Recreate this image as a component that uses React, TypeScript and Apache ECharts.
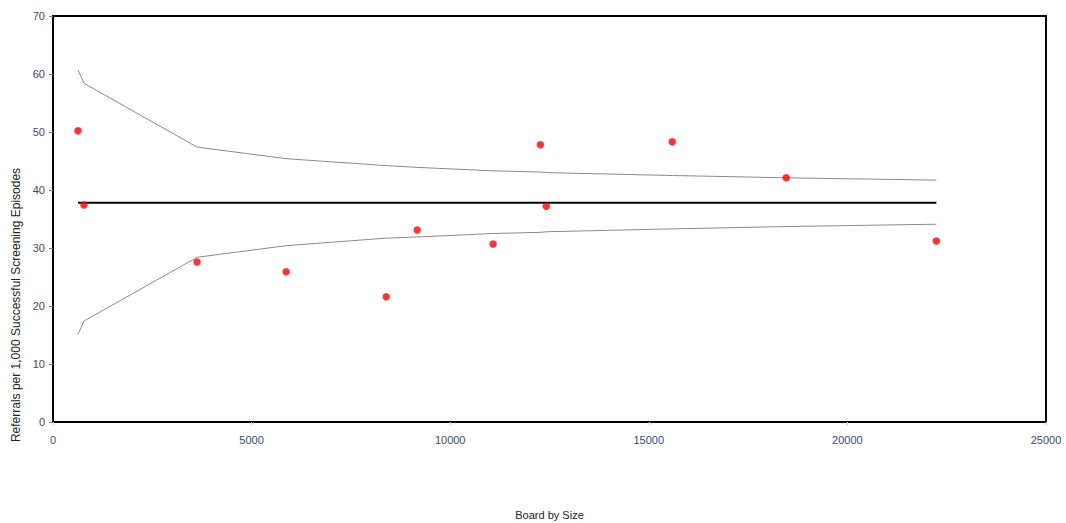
import React, { useEffect, useRef } from "react";
import * as echarts from "echarts";

const boardSize = [630, 780, 3627, 5870, 8390, 9170, 11080, 12270, 12420, 15590, 18460, 22240];
const referralRate = [50.2, 37.4, 27.6, 25.9, 21.6, 33.1, 30.7, 47.8, 37.2, 48.3, 42.1, 31.2];
const upperLimit = [60.7, 58.4, 47.4, 45.4, 44.2, 43.9, 43.3, 43.1, 43.0, 42.5, 42.1, 41.7];
const lowerLimit = [15.1, 17.4, 28.4, 30.4, 31.7, 31.9, 32.5, 32.7, 32.8, 33.3, 33.7, 34.1];
const meanRate = 37.8;
const xTitle = "Board by Size";
const yTitle = "Referrals per 1,000 Successful Screening Episodes";

export default function App() {
  const ref = useRef<HTMLDivElement>(null);
  useEffect(() => {
    if (!ref.current) return;
    const chart = echarts.init(ref.current, null, { renderer: "svg" });
    const labelColor = "#3d4866";
    chart.setOption({
      animation: false,
      backgroundColor: "#ffffff",
      grid: {
        left: 53,
        right: 20,
        top: 16,
        bottom: 101,
        outerBoundsMode: "none",
        containLabel: false,
        show: true,
        borderColor: "#000",
        borderWidth: 2,
        backgroundColor: "#fff",
      },
      graphic: [
        {
          type: "text",
          x: 16,
          y: 305,
          rotation: Math.PI / 2,
          style: {
            text: yTitle,
            fontFamily: "Liberation Sans, Arial",
            fontSize: 12,
            fill: "#222",
            align: "center",
            verticalAlign: "middle",
          },
        },
      ],
      xAxis: {
        type: "value",
        min: 0,
        max: 25000,
        interval: 5000,
        name: xTitle,
        nameLocation: "middle",
        nameGap: 87,
        nameTextStyle: { fontFamily: "Liberation Sans, Arial", fontSize: 11, color: "#222" },
        axisLine: { show: true, lineStyle: { color: "#000", width: 2 } },
        axisTick: { show: true, length: 3, lineStyle: { color: "#ccc" } },
        splitLine: { show: false },
        axisLabel: {
          fontFamily: "Liberation Sans, Arial",
          fontSize: 11,
          color: labelColor,
          margin: 12,
          formatter: (v: number) => String(v),
        },
      },
      yAxis: {
        type: "value",
        min: 0,
        max: 70,
        interval: 10,
        axisLine: { show: true, lineStyle: { color: "#000", width: 2 } },
        axisTick: { show: true, length: 4, lineStyle: { color: "#777" } },
        splitLine: { show: false },
        axisLabel: { fontFamily: "Liberation Sans, Arial", fontSize: 11, color: labelColor, margin: 8 },
      },
      series: [
        {
          type: "line",
          data: boardSize.map((x, i) => [x, upperLimit[i]]),
          symbol: "none",
          lineStyle: { color: "#8a8a8a", width: 1 },
          z: 2,
        },
        {
          type: "line",
          data: boardSize.map((x, i) => [x, lowerLimit[i]]),
          symbol: "none",
          lineStyle: { color: "#8a8a8a", width: 1 },
          z: 2,
        },
        {
          type: "line",
          data: [
            [boardSize[0], meanRate],
            [boardSize[boardSize.length - 1], meanRate],
          ],
          symbol: "none",
          lineStyle: { color: "#000", width: 2 },
          z: 3,
        },
        {
          type: "scatter",
          data: boardSize.map((x, i) => [x, referralRate[i]]),
          symbol: "circle",
          symbolSize: 7.5,
          itemStyle: { color: "#ff0000" },
          z: 4,
        },
      ],
    });
    return () => chart.dispose();
  }, []);
  return <div ref={ref} style={{ width: 1066, height: 523, position: "absolute", left: 0, top: 0 }} />;
}
